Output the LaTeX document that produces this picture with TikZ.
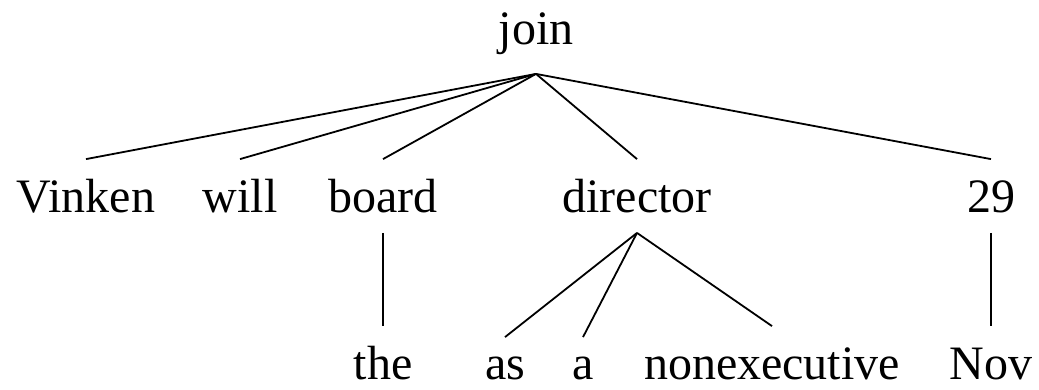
\documentclass[tikz,border=0pt]{standalone}
\usepackage{fontspec}
\setmainfont{Liberation Serif}

\begin{document}
\begin{tikzpicture}[x=1pt, y=-1pt, line width=1.8pt,
    word/.style={anchor=base, inner sep=0pt, text height=52pt, text depth=20pt,
                 font=\fontsize{48}{58}\selectfont}]
    \useasboundingbox (0,0) rectangle (1039,389);

    % Root of the tree, with a deeper box so the edges start below the j
    \node[word, text depth=29pt] (join) at (536,44) {join};

    % Middle row
    \node[word] (vinken)   at (86,212)  {Vinken};
    \node[word] (will)     at (240,212) {will};
    \node[word] (board)    at (383,212) {board};
    \node[word] (director) at (637,212) {director};
    \node[word] (day)      at (991,212) {29};

    % Bottom row
    \node[word] (the)    at (383,379) {the};
    \node[word] (as)     at (505,379) {as};
    \node[word] (a)      at (583,379) {a};
    \node[word] (nonexec) at (772,379) {nonexecutive};
    \node[word] (month)  at (991,379) {Nov};

    % Edges from the root
    \foreach \dep in {vinken, will, board, director, day} {
        \draw (join.south) -- (\dep.north);
    }

    % Edges one level down
    \draw (board.south) -- (the.north);
    \draw (director.south) -- ([yshift=-11pt]as.north);
    \draw (director.south) -- ([yshift=-11pt]a.north);
    \draw (director.south) -- (nonexec.north);
    \draw (day.south) -- (month.north);

\end{tikzpicture}
\end{document}
